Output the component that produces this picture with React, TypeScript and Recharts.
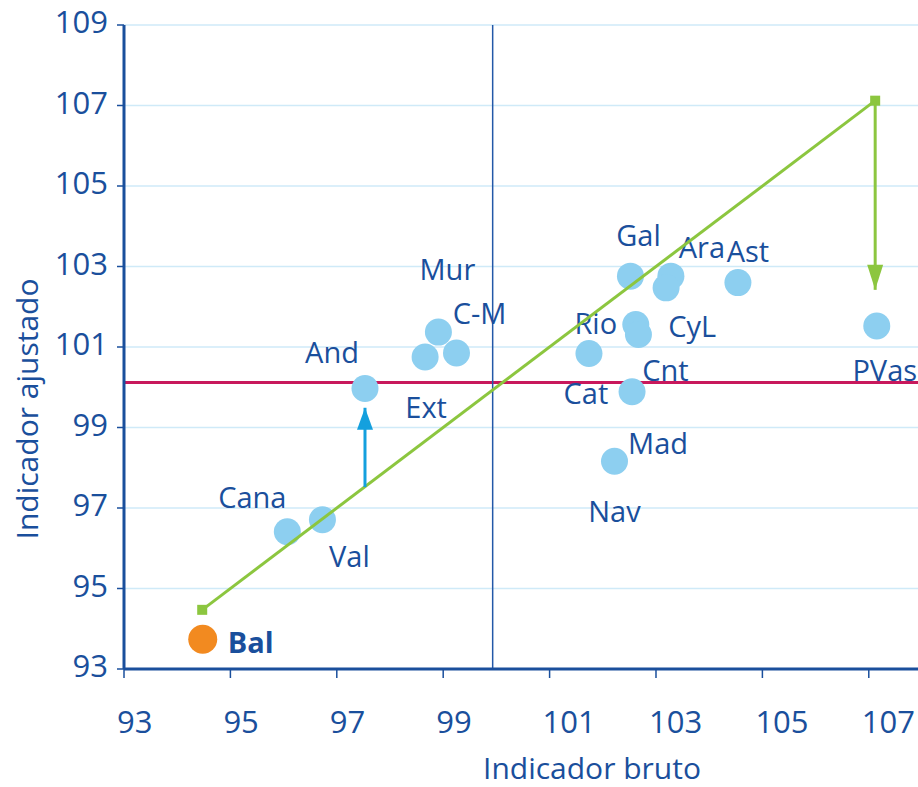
import {
  ScatterChart,
  Scatter,
  XAxis,
  YAxis,
  CartesianGrid,
  ReferenceLine,
} from "recharts";

// regiones: indicador bruto (x) e indicador ajustado (y)
const regions = ["Bal", "Cana", "Val", "And", "Ext", "Mur", "C-M", "Cat", "Nav", "Mad", "Gal", "Ara", "CyL", "Ast", "Rio", "Cnt", "PVas"];
const bruto = [94.48, 96.07, 96.73, 97.53, 98.66, 98.91, 99.25, 101.74, 102.22, 102.55, 102.52, 103.28, 103.19, 104.54, 102.62, 102.67, 107.15];
const ajustado = [93.74, 96.41, 96.71, 99.97, 100.75, 101.37, 100.85, 100.84, 98.16, 99.89, 102.76, 102.76, 102.47, 102.6, 101.56, 101.31, 101.52];
const highlight = "Bal";

const xTicks = [93, 95, 97, 99, 101, 103, 105, 107];
const yTicks = [93, 95, 97, 99, 101, 103, 105, 107, 109];

// media bruta y media ajustada
const meanBruto = 99.93;
const meanAjustado = 100.12;

// diagonal y = x
const diagonal = [94.47, 107.12];
// flechas: [x, desde, hasta]
const pvasArrow = [107.12, 107.12, 102.42];
const andArrow = [97.53, 97.52, 99.49];

const BLUE = "#1a4f9c";
const LIGHT = "#8dcff0";
const ORANGE = "#f28a20";
const GREEN = "#8cc63f";
const RED = "#c8185c";
const CYAN = "#14a0de";
const FONT = "'Open Sans', sans-serif";

// desplazamiento de las etiquetas respecto al punto (px)
const labelOffsets: Record<string, [number, number]> = {
  Bal: [48, 2],
  Cana: [-35, -35],
  Val: [27, 36],
  And: [-33, -37],
  Ext: [1, 49],
  Mur: [9, -64],
  "C-M": [23, -41],
  Cat: [-3, 39],
  Nav: [0, 49],
  Mad: [26, 51],
  Gal: [8, -42],
  Ara: [31, -30],
  CyL: [26, 38],
  Ast: [10, -32],
  Rio: [-40, -2],
  Cnt: [27, 35],
  PVas: [8, 43],
};

const points = regions.map((name, i) => ({ name, x: bruto[i], y: ajustado[i] }));
const diagData = diagonal.map((v) => ({ x: v, y: v }));
const pvasData = [pvasArrow[1], pvasArrow[2]].map((v) => ({ x: pvasArrow[0], y: v }));
const andData = [andArrow[1], andArrow[2]].map((v) => ({ x: andArrow[0], y: v }));

const RegionDot = (props: any) => {
  const { cx, cy, payload } = props;
  const isHi = payload.name === highlight;
  const [dx, dy] = labelOffsets[payload.name] || [0, -30];
  return (
    <g>
      <circle cx={cx} cy={cy} r={isHi ? 14.5 : 13.5} fill={isHi ? ORANGE : LIGHT} />
      <text
        x={cx + dx}
        y={cy + dy}
        textAnchor="middle"
        dominantBaseline="central"
        fill={BLUE}
        fontSize={29}
        fontWeight={isHi ? 700 : 400}
        fontFamily={FONT}
      >
        {payload.name}
      </text>
    </g>
  );
};

const SquareDot = (props: any) => (
  <rect x={props.cx - 5} y={props.cy - 5} width={10} height={10} fill={GREEN} />
);

const makeArrowHead = (tipY: number, color: string, up: boolean) => (props: any) => {
  const { cx, cy, payload } = props;
  if (payload.y !== tipY) return <g />;
  const h = up ? 22 : 25;
  const w = 8;
  const base = up ? cy + h : cy - h;
  return <polygon points={`${cx},${cy} ${cx - w},${base} ${cx + w},${base}`} fill={color} />;
};

const XTick = (props: any) => {
  const { x, y, payload } = props;
  return (
    <text x={x - 7} y={y + 53} textAnchor="start" fill={BLUE} fontSize={31} fontFamily={FONT}>
      {payload.value}
    </text>
  );
};

const YTick = (props: any) => {
  const { x, y, payload } = props;
  return (
    <text x={x} y={y + 8} textAnchor="end" fill={BLUE} fontSize={31} fontFamily={FONT}>
      {payload.value}
    </text>
  );
};

export default function App() {
  return (
    <div style={{ position: "absolute", left: 0, top: 0, background: "#fff" }}>
      <ScatterChart width={918} height={787} margin={{ top: 25, right: 0, bottom: 0, left: 0 }}>
        <CartesianGrid vertical={false} stroke="#cfeaf8" strokeWidth={1.5} />
        <XAxis
          type="number"
          dataKey="x"
          domain={[93, 107.925]}
          ticks={xTicks}
          allowDataOverflow
          height={118}
          tickSize={9}
          tickMargin={2}
          axisLine={{ stroke: BLUE, strokeWidth: 3 }}
          tickLine={{ stroke: BLUE, strokeWidth: 1.5 }}
          tick={<XTick />}
          label={(p: any) => (
            <text x={592} y={779} textAnchor="middle" fill={BLUE} fontSize={30} fontFamily={FONT}>
              Indicador bruto
            </text>
          )}
        />
        <YAxis
          type="number"
          dataKey="y"
          domain={[93, 109]}
          ticks={yTicks}
          allowDataOverflow
          width={124}
          tickSize={7}
          tickMargin={9}
          axisLine={{ stroke: BLUE, strokeWidth: 3 }}
          tickLine={{ stroke: BLUE, strokeWidth: 1.5 }}
          tick={<YTick />}
          label={(p: any) => (
            <text
              x={26}
              y={409}
              transform="rotate(-90 26 409)"
              textAnchor="middle"
              dominantBaseline="central"
              fill={BLUE}
              fontSize={30}
              fontFamily={FONT}
            >
              Indicador ajustado
            </text>
          )}
        />
        <ReferenceLine y={meanAjustado} stroke={RED} strokeWidth={3} />
        <Scatter data={points} shape={<RegionDot />} isAnimationActive={false} />
        <ReferenceLine x={meanBruto} stroke="#2358a8" strokeWidth={1.5} />
        <Scatter
          data={diagData}
          line={{ stroke: GREEN, strokeWidth: 3 }}
          shape={<SquareDot />}
          isAnimationActive={false}
        />
        <Scatter
          data={pvasData}
          line={{ stroke: GREEN, strokeWidth: 3 }}
          shape={makeArrowHead(pvasArrow[2], GREEN, false)}
          isAnimationActive={false}
        />
        <Scatter
          data={andData}
          line={{ stroke: CYAN, strokeWidth: 3 }}
          shape={makeArrowHead(andArrow[2], CYAN, true)}
          isAnimationActive={false}
        />
      </ScatterChart>
    </div>
  );
}
